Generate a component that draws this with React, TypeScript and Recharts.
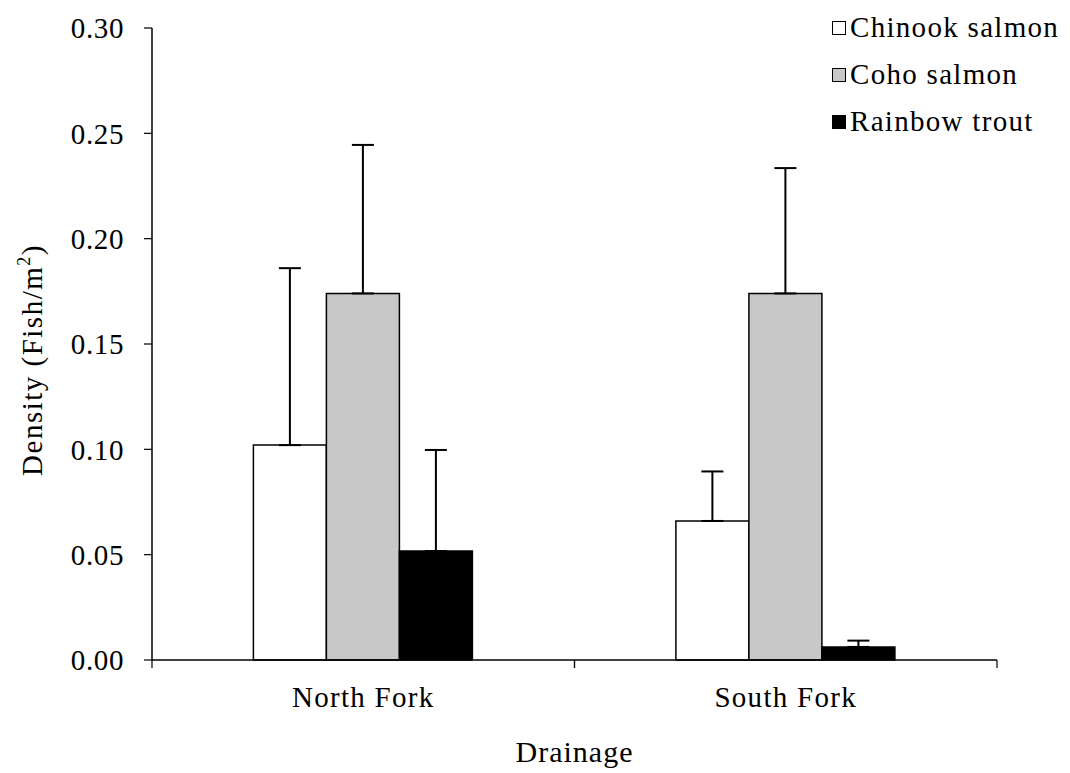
import React from 'react';
import { BarChart, Bar, XAxis, YAxis, ErrorBar, Legend } from 'recharts';

const categories = ['North Fork', 'South Fork'];
const seriesNames = ['Chinook salmon', 'Coho salmon', 'Rainbow trout'];
const chinook = [0.102, 0.066];
const chinookSE = [0.084, 0.0235];
const coho = [0.174, 0.174];
const cohoSE = [0.0705, 0.0595];
const rainbow = [0.0517, 0.0062];
const rainbowSE = [0.048, 0.003];
const yTicks = [0, 0.05, 0.1, 0.15, 0.2, 0.25, 0.3];

const colors = ['#ffffff', '#c8c8c8', '#000000'];
const FONT = 'Liberation Serif, DejaVu Serif, serif';
const FS = 29;
const LS = 1.3;
const X_TICK_SIZE = 8;
const X_TICK_MARGIN = 4;

const data = categories.map((c, i) => ({
  drainage: c,
  chinook: chinook[i],
  chinookErr: [0, chinookSE[i]],
  coho: coho[i],
  cohoErr: [0, cohoSE[i]],
  rainbow: rainbow[i],
  rainbowErr: [0, rainbowSE[i]],
}));

const XTick = (props: any) => {
  const { x, y, payload } = props;
  const off = payload && payload.offset ? payload.offset : 0;
  const axisY = y - X_TICK_SIZE - X_TICK_MARGIN;
  return (
    <g>
      <line x1={x - off} x2={x - off} y1={axisY} y2={axisY + X_TICK_SIZE} stroke="#000" strokeWidth={1.2} />
      <line x1={x + off} x2={x + off} y1={axisY} y2={axisY + X_TICK_SIZE} stroke="#000" strokeWidth={1.2} />
      <text
        x={x}
        y={axisY + 47}
        textAnchor="middle"
        style={{ fontFamily: FONT, letterSpacing: LS }}
        fontSize={FS}
        fill="#000"
      >
        {payload.value}
      </text>
    </g>
  );
};

const YLabel = (props: any) => {
  const vb = props.viewBox || {};
  const cx = (vb.x || 0) + 42;
  const cy = (vb.y || 0) + (vb.height || 0) / 2 + 16;
  return (
    <text
      x={cx}
      y={cy}
      transform={`rotate(-90 ${cx} ${cy})`}
      textAnchor="middle"
      style={{ fontFamily: FONT, letterSpacing: 1.5 }}
      fontSize={FS}
      fill="#000"
    >
      Density (Fish/m
      <tspan fontSize={18} dy={-12}>2</tspan>
      <tspan dy={12}>)</tspan>
    </text>
  );
};

const XLabel = (props: any) => {
  const vb = props.viewBox || {};
  const cx = (vb.x || 0) + (vb.width || 0) / 2;
  const y = (vb.y || 0) + 102;
  return (
    <text
      x={cx}
      y={y}
      textAnchor="middle"
      style={{ fontFamily: FONT, letterSpacing: 1 }}
      fontSize={FS + 1}
      fill="#000"
    >
      Drainage
    </text>
  );
};

const LegendContent = (props: any) => {
  const payload = props.payload || [];
  return (
    <div style={{ fontFamily: FONT, fontSize: FS, color: '#000', letterSpacing: LS }}>
      {payload.map((p: any, i: number) => (
        <div key={i} style={{ display: 'flex', alignItems: 'center', height: 47, whiteSpace: 'nowrap' }}>
          <span
            style={{
              display: 'inline-block',
              width: 12,
              height: 12,
              border: '1px solid #000',
              background: p.payload && p.payload.fill ? p.payload.fill : p.color,
              marginRight: 4,
            }}
          />
          <span>{p.value}</span>
        </div>
      ))}
    </div>
  );
};

export default function App() {
  return (
    <div style={{ position: 'absolute', left: 0, top: 0, width: 1070, height: 773, background: '#fff', fontFamily: FONT }}>
      <BarChart
        width={1070}
        height={773}
        data={data}
        margin={{ top: 28, right: 73, left: 0, bottom: 0 }}
        barCategoryGap="24%"
        barGap={0}
        style={{ fontFamily: FONT }}
      >
        <XAxis
          dataKey="drainage"
          height={113}
          axisLine={{ stroke: '#000', strokeWidth: 1.5 }}
          tickLine={{ stroke: 'none' }}
          tickSize={X_TICK_SIZE}
          tickMargin={X_TICK_MARGIN}
          tick={<XTick />}
          label={<XLabel />}
        />
        <YAxis
          width={152}
          domain={[0, 0.3]}
          ticks={yTicks}
          interval={0}
          tickFormatter={(v: number) => v.toFixed(2)}
          axisLine={{ stroke: '#000', strokeWidth: 1.5 }}
          tickLine={{ stroke: '#000', strokeWidth: 1.2 }}
          tickSize={8}
          tickMargin={20}
          tick={{ fill: '#000', fontSize: FS, style: { fontFamily: FONT, letterSpacing: 0.6 } }}
          label={<YLabel />}
        />
        <Legend
          layout="horizontal"
          verticalAlign="middle"
          align="center"
          wrapperStyle={{ top: 4, left: 832, width: 238 }}
          content={<LegendContent />}
        />
        <Bar dataKey="chinook" name={seriesNames[0]} fill={colors[0]} stroke="#000" strokeWidth={1.5} isAnimationActive={false}>
          <ErrorBar dataKey="chinookErr" direction="y" width={11} stroke="#000" strokeWidth={2} isAnimationActive={false} />
        </Bar>
        <Bar dataKey="coho" name={seriesNames[1]} fill={colors[1]} stroke="#000" strokeWidth={1.5} isAnimationActive={false}>
          <ErrorBar dataKey="cohoErr" direction="y" width={11} stroke="#000" strokeWidth={2} isAnimationActive={false} />
        </Bar>
        <Bar dataKey="rainbow" name={seriesNames[2]} fill={colors[2]} stroke="#000" strokeWidth={1.5} isAnimationActive={false}>
          <ErrorBar dataKey="rainbowErr" direction="y" width={11} stroke="#000" strokeWidth={2} isAnimationActive={false} />
        </Bar>
      </BarChart>
    </div>
  );
}
